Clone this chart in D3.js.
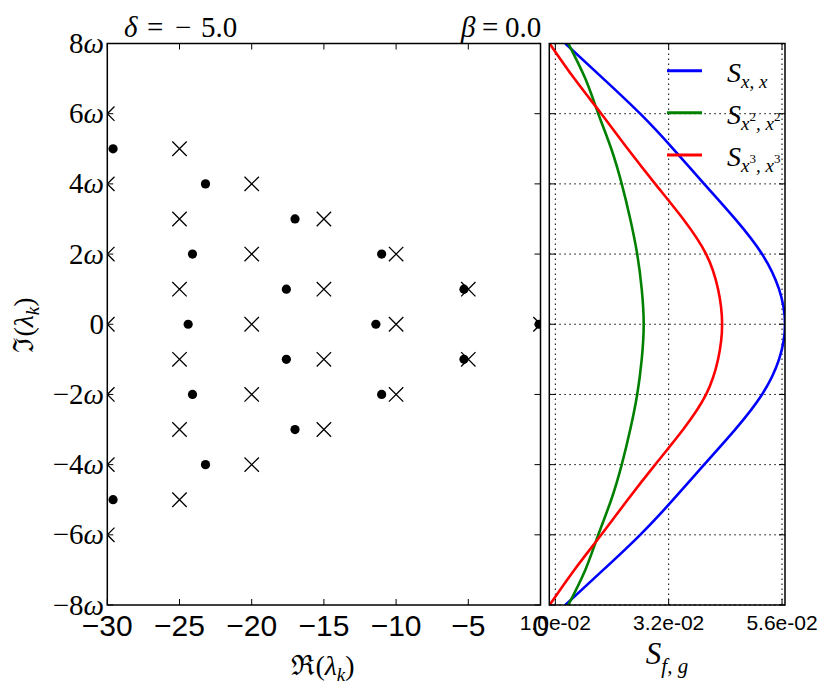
<!DOCTYPE html>
<html><head><meta charset="utf-8">
<script src="https://cdn.jsdelivr.net/npm/d3@7"></script>
<style>body{margin:0;background:#fff}svg{display:block}</style>
</head><body>
<svg id="c" width="828" height="698"></svg>
<script>
// ---------------- data ----------------
// left panel: zeros (crosses) and poles (dots) in the complex plane, imaginary part in units of ω
const crossRe = [-30,-30,-30,-30,-30,-30,-30, -25,-25,-25,-25,-25,-25, -20,-20,-20,-20,-20, -15,-15,-15,-15, -10,-10,-10, -5,-5, 0];
const crossIm = [6,4,2,0,-2,-4,-6, 5,3,1,-1,-3,-5, 4,2,0,-2,-4, 3,1,-1,-3, 2,0,-2, 1,-1, 0];
const poleRe = [-29.6,-29.6,-23.2,-23.2,-24.1,-24.1,-24.4,-17.0,-17.0,-17.6,-17.6,-11.0,-11.0,-11.4,-5.3,-5.3,-0.1];
const poleIm = [5,-5,4,-4,2,-2,0,3,-3,1,-1,2,-2,0,1,-1,0];
const reTicks = [-30,-25,-20,-15,-10,-5,0];
const reTickLabels = ["\u221230","\u221225","\u221220","\u221215","\u221210","\u22125","0"];
const imTicks = [8,6,4,2,0,-2,-4,-6,-8];
const imTickNums = ["8","6","4","2","0","\u22122","\u22124","\u22126","\u22128"];

// right panel: spectra vs imaginary frequency
const curveIm = [8,7,6,5,4,3,2,1,0,-1,-2,-3,-4,-5,-6,-7,-8];
const sXX  = [0.01201,0.01964,0.02707,0.03370,0.03993,0.04616,0.05158,0.05500,0.05620,0.05500,0.05158,0.04616,0.03993,0.03370,0.02707,0.01964,0.01201];
const sX2X2 = [0.01261,0.01603,0.01864,0.02125,0.02336,0.02507,0.02647,0.02738,0.02778,0.02738,0.02647,0.02507,0.02336,0.02125,0.01864,0.01603,0.01261];
const sX3X3 = [0.00885,0.01382,0.01924,0.02456,0.03009,0.03571,0.04033,0.04274,0.04355,0.04274,0.04033,0.03571,0.03009,0.02456,0.01924,0.01382,0.00885];
const sTicks = [0.0100,0.0328,0.0556];
const sTickLabels = ["1.0e-02","3.2e-02","5.6e-02"];
const seriesNames = ["xx","x2","x3"];
const seriesColors = ["#0000ff","#008000","#ff0000"];

// ---------------- layout ----------------
const svg = d3.select("#c");
const L = {x0:107.3, x1:540.5};
const R = {x0:549.3, x1:785};
const Y = {top:43.5, bottom:605};
const serif = "'Liberation Serif','DejaVu Serif',serif";
const sans = "'Liberation Sans',Arial,sans-serif";

const xL = d3.scaleLinear().domain([-30,0]).range([L.x0,L.x1]);
const yS = d3.scaleLinear().domain([-8,8]).range([Y.bottom,Y.top]);
const xR = d3.scaleLinear().domain([0.00879,0.05620]).range([R.x0,R.x1]);

const defs = svg.append("defs");
defs.append("clipPath").attr("id","clipL").append("rect")
  .attr("x",L.x0).attr("y",Y.top).attr("width",L.x1-L.x0).attr("height",Y.bottom-Y.top);
defs.append("clipPath").attr("id","clipR").append("rect")
  .attr("x",R.x0).attr("y",Y.top).attr("width",R.x1-R.x0).attr("height",Y.bottom-Y.top);

// ---------- right panel grid ----------
const gR = svg.append("g");
gR.selectAll("line.gv").data(sTicks).join("line")
  .attr("x1",d=>xR(d)).attr("x2",d=>xR(d)).attr("y1",Y.top).attr("y2",Y.bottom)
  .attr("stroke","#000").attr("stroke-width",1).attr("stroke-dasharray","1.5,3.5");
gR.selectAll("line.gh").data(imTicks).join("line")
  .attr("x1",R.x0).attr("x2",R.x1).attr("y1",d=>yS(d)).attr("y2",d=>yS(d))
  .attr("stroke","#000").attr("stroke-width",1).attr("stroke-dasharray","1.5,3.5");

// curves
const seriesData = [sXX,sX2X2,sX3X3];
const line = d3.line().x(d=>xR(d[0])).y(d=>yS(d[1])).curve(d3.curveNatural);
const gCurves = svg.append("g").attr("clip-path","url(#clipR)");
seriesData.forEach((s,i)=>{
  gCurves.append("path").datum(s.map((v,j)=>[v,curveIm[j]]))
    .attr("d",line).attr("fill","none").attr("stroke",seriesColors[i]).attr("stroke-width",2.6);
});

// ---------- left panel markers ----------
const gL = svg.append("g").attr("clip-path","url(#clipL)");
gL.selectAll("path.cross").data(crossRe.map((r,i)=>[r,crossIm[i]])).join("path")
  .attr("d",d=>{const x=xL(d[0]),y=yS(d[1]),s=7.2;return `M${x-s},${y-s}L${x+s},${y+s}M${x-s},${y+s}L${x+s},${y-s}`;})
  .attr("stroke","#000").attr("stroke-width",1.3).attr("fill","none");
gL.selectAll("circle").data(poleRe.map((r,i)=>[r,poleIm[i]])).join("circle")
  .attr("cx",d=>xL(d[0])).attr("cy",d=>yS(d[1])).attr("r",4.6).attr("fill","#000");

// ---------- frames and ticks ----------
function frame(x0,x1){
  svg.append("rect").attr("x",x0).attr("y",Y.top).attr("width",x1-x0).attr("height",Y.bottom-Y.top)
    .attr("fill","none").attr("stroke","#000").attr("stroke-width",1.5);
}
frame(L.x0,L.x1); frame(R.x0,R.x1);
const tk = 6;
function yTicks(x0,x1){
  imTicks.forEach(t=>{
    const y=yS(t);
    svg.append("line").attr("x1",x0).attr("x2",x0+tk).attr("y1",y).attr("y2",y).attr("stroke","#000").attr("stroke-width",1);
    svg.append("line").attr("x1",x1).attr("x2",x1-tk).attr("y1",y).attr("y2",y).attr("stroke","#000").attr("stroke-width",1);
  });
}
yTicks(L.x0,L.x1); yTicks(R.x0,R.x1);
function xTicks(scale,ticks){
  ticks.forEach(t=>{
    const x=scale(t);
    svg.append("line").attr("x1",x).attr("x2",x).attr("y1",Y.bottom).attr("y2",Y.bottom-tk).attr("stroke","#000").attr("stroke-width",1);
    svg.append("line").attr("x1",x).attr("x2",x).attr("y1",Y.top).attr("y2",Y.top+tk).attr("stroke","#000").attr("stroke-width",1);
  });
}
xTicks(xL,reTicks); xTicks(xR,sTicks);

// ---------- tick labels ----------
svg.selectAll("text.xl").data(reTicks).join("text")
  .attr("x",d=>xL(d)).attr("y",636).attr("text-anchor","middle")
  .attr("font-family",sans).attr("font-size",30).attr("fill","#000")
  .text((d,i)=>reTickLabels[i]);
svg.selectAll("text.xr").data(sTicks).join("text")
  .attr("x",d=>xR(d)).attr("y",630).attr("text-anchor","middle")
  .attr("font-family",sans).attr("font-size",21).attr("fill","#000")
  .text((d,i)=>sTickLabels[i]);
imTicks.forEach((t,i)=>{
  const tx = svg.append("text").attr("x",104).attr("y",yS(t)+9.5).attr("text-anchor","end")
    .attr("font-family",serif).attr("font-size",29).attr("fill","#000");
  tx.append("tspan").text(imTickNums[i]);
  if(t!==0) tx.append("tspan").attr("font-style","italic").text("\u03c9");
});

// ---------- titles ----------
function mathTitle(parts){
  const tx = svg.append("text").attr("y",37).attr("font-family",serif).attr("font-size",29).attr("fill","#000");
  parts.forEach(p=>{
    const s = tx.append("tspan").attr("x",p[0]).text(p[1]);
    if(p[2]) s.attr("font-style","italic");
  });
}
mathTitle([[124,"\u03b4",true],[147,"="],[175,"\u2212"],[201,"5.0"]]);
mathTitle([[461,"\u03b2",true],[482,"="],[505,"0.0"]]);

// ---------- axis labels ----------
const xlab = svg.append("text").attr("x",323).attr("y",675).attr("text-anchor","middle")
  .attr("font-family",serif).attr("font-size",28).attr("fill","#000");
xlab.append("tspan").text("\u211c(");
xlab.append("tspan").attr("font-style","italic").text("\u03bb");
xlab.append("tspan").attr("font-style","italic").attr("font-size",19).attr("dy",6).text("k");
xlab.append("tspan").attr("dy",-6).text(")");

const ylab = svg.append("text").attr("transform","translate(33,325) rotate(-90)").attr("text-anchor","middle")
  .attr("font-family",serif).attr("font-size",28).attr("fill","#000");
ylab.append("tspan").text("\u2111(");
ylab.append("tspan").attr("font-style","italic").text("\u03bb");
ylab.append("tspan").attr("font-style","italic").attr("font-size",19).attr("dy",6).text("k");
ylab.append("tspan").attr("dy",-6).text(")");

const slab = svg.append("text").attr("x",667).attr("y",664).attr("text-anchor","middle")
  .attr("font-family",serif).attr("font-size",31).attr("fill","#000");
slab.append("tspan").attr("font-style","italic").text("S");
slab.append("tspan").attr("font-style","italic").attr("font-size",21).attr("dy",9).text("f, g");

// ---------- legend ----------
const legY = [70.7,112.7,155];
const legSub = [["x, x",null],["x","2"],["x","3"]];
seriesNames.forEach((n,i)=>{
  svg.append("line").attr("x1",667).attr("x2",702).attr("y1",legY[i]).attr("y2",legY[i])
    .attr("stroke",seriesColors[i]).attr("stroke-width",3);
  const tx = svg.append("text").attr("x",727).attr("y",legY[i]+11).attr("font-family",serif)
    .attr("font-size",28).attr("fill","#000");
  tx.append("tspan").attr("font-style","italic").text("S");
  const [b,p]=legSub[i];
  if(!p){
    tx.append("tspan").attr("font-style","italic").attr("font-size",19).attr("dy",6).text(b);
  } else {
    tx.append("tspan").attr("font-style","italic").attr("font-size",19).attr("dy",6).text(b);
    tx.append("tspan").attr("font-size",13).attr("dy",-9).text(p);
    tx.append("tspan").attr("font-style","italic").attr("font-size",19).attr("dy",9).text(", x");
    tx.append("tspan").attr("font-size",13).attr("dy",-9).text(p);
  }
});
</script>
</body></html>
